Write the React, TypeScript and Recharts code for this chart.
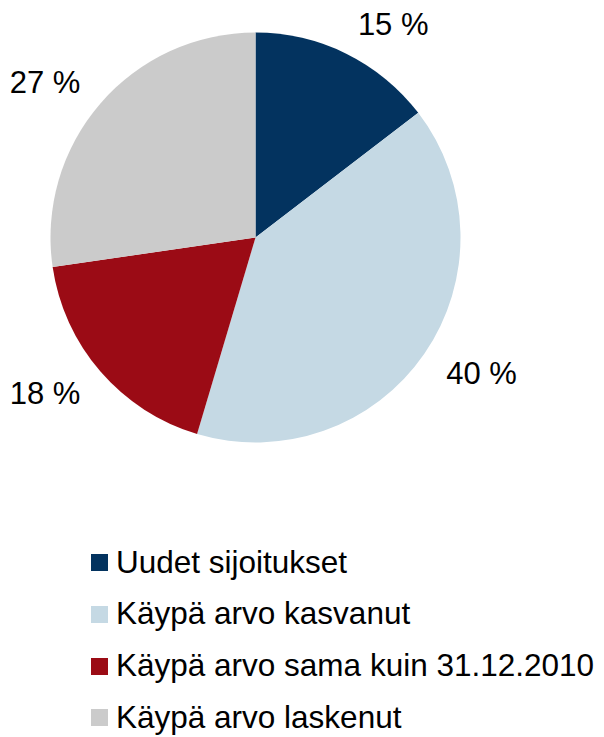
import React from "react";
import { PieChart, Pie, Cell, Legend } from "recharts";

const categories = [
  "Uudet sijoitukset",
  "Käypä arvo kasvanut",
  "Käypä arvo sama kuin 31.12.2010",
  "Käypä arvo laskenut",
];
const shares = [14.6, 40.0, 18.1, 27.3];
const colors = ["#03335F", "#C5D9E4", "#9B0B15", "#CBCBCB"];

const data = categories.map((name, i) => ({ name, value: shares[i] }));

const FONT = "'Liberation Sans', Arial, sans-serif";
const RAD = Math.PI / 180;

const renderLabel = (props: any) => {
  const { cx, cy, midAngle, outerRadius, percent } = props;
  const ux = Math.cos(-midAngle * RAD);
  const uy = Math.sin(-midAngle * RAD);
  const ex = cx + outerRadius * ux;
  const ey = cy + outerRadius * uy;
  const x = ex + 27 * ux + Math.sign(ux) * 35;
  const y = ey + 33 * uy;
  const fs = 31;
  return (
    <text
      x={x}
      y={y + fs * 0.355}
      textAnchor="middle"
      fontSize={fs}
      fontFamily={FONT}
      fill="#000"
    >
      {`${Math.round(percent * 100)} %`}
    </text>
  );
};

const renderLegend = () => (
  <div style={{ fontFamily: FONT, fontSize: 31.5, color: "#000" }}>
    {data.map((d, i) => (
      <div
        key={d.name}
        style={{
          height: 51.8,
          lineHeight: "51.8px",
          display: "flex",
          alignItems: "center",
          whiteSpace: "nowrap",
        }}
      >
        <span
          style={{
            display: "inline-block",
            width: 17,
            height: 17,
            background: colors[i],
            marginRight: 8,
            flex: "none",
          }}
        />
        <span>{d.name}</span>
      </div>
    ))}
  </div>
);

export default function App() {
  return (
    <div style={{ margin: "-8px -8px 0 -8px", width: 604, height: 737 }}>
      <PieChart
        width={604}
        height={737}
        margin={{ top: 0, right: 0, bottom: 0, left: 0 }}
      >
        <Pie
          data={data}
          dataKey="value"
          nameKey="name"
          cx={255.5}
          cy={237.5}
          outerRadius={205}
          startAngle={90}
          endAngle={-270}
          stroke="none"
          label={renderLabel}
          labelLine={false}
          isAnimationActive={false}
        >
          {data.map((d, i) => (
            <Cell key={d.name} fill={colors[i]} />
          ))}
        </Pie>
        <Legend
          layout="horizontal"
          verticalAlign="bottom"
          content={renderLegend}
          wrapperStyle={{
            position: "absolute",
            left: 91,
            top: 536.6,
            bottom: "auto",
            width: 510,
          }}
        />
      </PieChart>
    </div>
  );
}
